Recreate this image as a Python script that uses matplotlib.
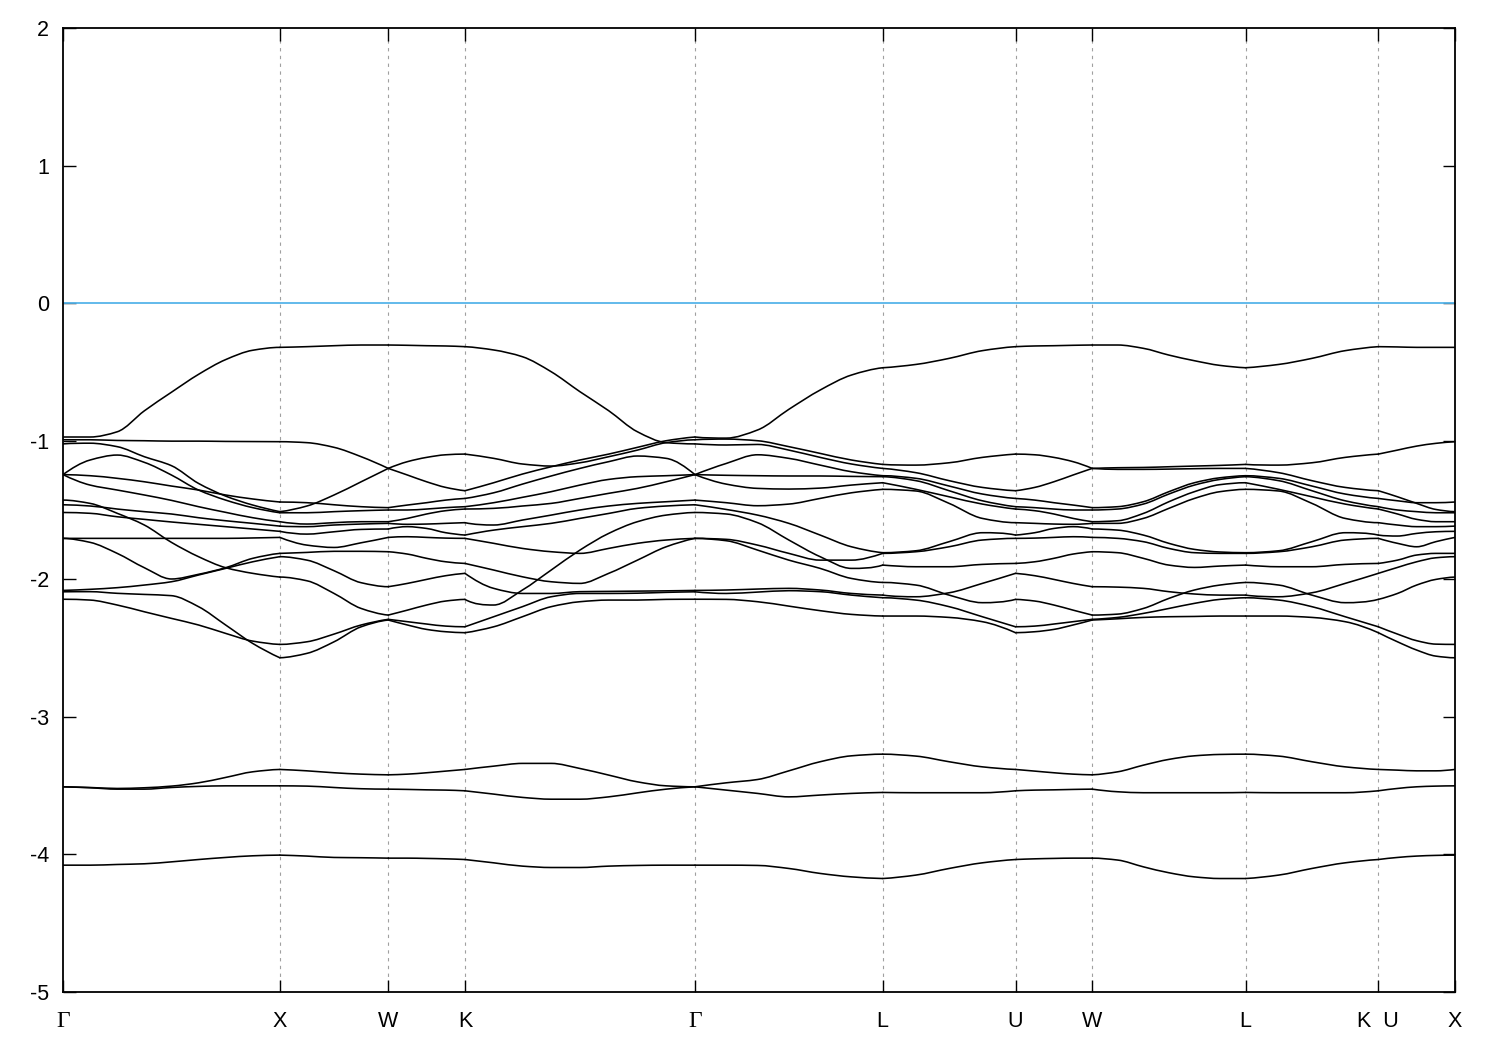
import numpy as np
import matplotlib
matplotlib.use("Agg")
import matplotlib.pyplot as plt
from matplotlib.path import Path
from matplotlib.patches import PathPatch

# ---------------- k-path ----------------
kpoint_labels = ["Γ", "X", "W", "K", "Γ", "L", "U", "W", "L", "K  U", "X"]
segment_lengths = [1.0, 0.5, 0.3536, 1.0607, 0.8660, 0.6124, 0.3536, 0.7071, 0.6124, 0.3536]

# ---------------- energies (eV) per segment, one row per band ----------------
bands_GX = [
    [-0.97, -0.97, -0.932, -0.78, -0.645, -0.515, -0.408, -0.34, -0.319],
    [-0.99, -0.99, -0.995, -0.997, -1.0, -1.0, -1.002, -1.003, -1.004],
    [-1.02, -1.015, -1.04, -1.113, -1.178, -1.307, -1.399, -1.464, -1.512],
    [-1.243, -1.137, -1.101, -1.154, -1.246, -1.355, -1.428, -1.483, -1.52],
    [-1.243, -1.251, -1.27, -1.295, -1.326, -1.355, -1.391, -1.42, -1.442],
    [-1.243, -1.319, -1.355, -1.391, -1.43, -1.476, -1.517, -1.556, -1.585],
    [-1.462, -1.471, -1.493, -1.512, -1.529, -1.556, -1.578, -1.597, -1.617],
    [-1.518, -1.524, -1.549, -1.568, -1.587, -1.604, -1.621, -1.638, -1.655],
    [-1.428, -1.452, -1.524, -1.609, -1.735, -1.839, -1.919, -1.96, -1.987],
    [-1.706, -1.706, -1.706, -1.706, -1.706, -1.706, -1.706, -1.703, -1.699],
    [-1.706, -1.735, -1.815, -1.919, -2.001, -1.967, -1.919, -1.851, -1.815],
    [-2.084, -2.076, -2.064, -2.045, -2.021, -1.972, -1.924, -1.876, -1.839],
    [-2.094, -2.093, -2.105, -2.113, -2.122, -2.202, -2.335, -2.469, -2.573],
    [-2.148, -2.154, -2.19, -2.239, -2.287, -2.335, -2.396, -2.452, -2.476],
    [-3.51, -3.515, -3.522, -3.517, -3.505, -3.481, -3.442, -3.401, -3.384],
    [-3.51, -3.517, -3.527, -3.527, -3.515, -3.507, -3.503, -3.503, -3.503],
    [-4.079, -4.079, -4.074, -4.069, -4.055, -4.038, -4.023, -4.011, -4.006],
]

bands_XW = [
    [-0.319, -0.314, -0.307, -0.302, -0.302],
    [-1.004, -1.011, -1.045, -1.113, -1.198],
    [-1.442, -1.447, -1.462, -1.476, -1.483],
    [-1.512, -1.471, -1.391, -1.295, -1.198],
    [-1.52, -1.52, -1.512, -1.505, -1.5],
    [-1.585, -1.602, -1.592, -1.585, -1.585],
    [-1.617, -1.621, -1.609, -1.602, -1.597],
    [-1.655, -1.675, -1.658, -1.641, -1.638],
    [-1.699, -1.755, -1.772, -1.738, -1.699],
    [-1.815, -1.808, -1.800, -1.800, -1.803],
    [-1.839, -1.864, -1.941, -2.028, -2.057],
    [-1.987, -2.014, -2.106, -2.215, -2.263],
    [-2.476, -2.457, -2.401, -2.335, -2.294],
    [-2.573, -2.541, -2.457, -2.348, -2.299],
    [-3.384, -3.394, -3.408, -3.418, -3.423],
    [-3.503, -3.505, -3.515, -3.524, -3.527],
    [-4.006, -4.013, -4.023, -4.025, -4.028],
]

bands_WK = [
    [-0.302, -0.304, -0.307, -0.309, -0.314],
    [-1.198, -1.246, -1.295, -1.336, -1.36],
    [-1.198, -1.149, -1.118, -1.099, -1.094],
    [-1.483, -1.464, -1.447, -1.428, -1.416],
    [-1.5, -1.5, -1.493, -1.483, -1.476],
    [-1.585, -1.561, -1.529, -1.505, -1.493],
    [-1.597, -1.604, -1.602, -1.597, -1.592],
    [-1.638, -1.621, -1.634, -1.665, -1.682],
    [-1.699, -1.694, -1.699, -1.704, -1.706],
    [-1.803, -1.82, -1.851, -1.876, -1.888],
    [-2.057, -2.033, -2.004, -1.977, -1.96],
    [-2.263, -2.227, -2.19, -2.161, -2.149],
    [-2.294, -2.311, -2.328, -2.343, -2.348],
    [-2.299, -2.335, -2.367, -2.384, -2.391],
    [-3.423, -3.418, -3.408, -3.396, -3.384],
    [-3.527, -3.529, -3.532, -3.534, -3.539],
    [-4.028, -4.028, -4.03, -4.033, -4.038],
]

bands_KG = [
    [-0.314, -0.338, -0.387, -0.496, -0.641, -0.779, -0.932, -1.011, -1.02],
    [-1.36, -1.302, -1.239, -1.186, -1.137, -1.094, -1.045, -0.997, -0.97],
    [-1.094, -1.125, -1.166, -1.181, -1.157, -1.113, -1.065, -1.011, -0.99],
    [-1.416, -1.375, -1.312, -1.253, -1.198, -1.149, -1.108, -1.125, -1.243],
    [-1.476, -1.447, -1.408, -1.367, -1.319, -1.278, -1.258, -1.251, -1.243],
    [-1.493, -1.488, -1.471, -1.452, -1.416, -1.379, -1.343, -1.295, -1.243],
    [-1.592, -1.609, -1.573, -1.537, -1.5, -1.471, -1.452, -1.44, -1.428],
    [-1.682, -1.646, -1.621, -1.597, -1.561, -1.525, -1.488, -1.471, -1.462],
    [-1.706, -1.742, -1.779, -1.803, -1.815, -1.779, -1.742, -1.718, -1.706],
    [-1.888, -1.936, -1.985, -2.021, -2.033, -1.96, -1.864, -1.767, -1.706],
    [-1.96, -2.069, -2.106, -2.106, -2.093, -2.091, -2.089, -2.087, -2.084],
    [-2.149, -2.19, -2.081, -1.936, -1.791, -1.67, -1.585, -1.537, -1.518],
    [-2.348, -2.275, -2.202, -2.13, -2.106, -2.106, -2.104, -2.098, -2.094],
    [-2.391, -2.348, -2.275, -2.202, -2.166, -2.154, -2.154, -2.149, -2.148],
    [-3.384, -3.36, -3.34, -3.34, -3.377, -3.425, -3.474, -3.503, -3.51],
    [-3.539, -3.563, -3.587, -3.6, -3.6, -3.583, -3.554, -3.527, -3.51],
    [-4.038, -4.062, -4.086, -4.096, -4.096, -4.086, -4.081, -4.079, -4.079],
]

bands_GL = [
    [-0.97, -0.978, -0.919, -0.769, -0.629, -0.52, -0.467],
    [-0.99, -0.985, -0.997, -1.04, -1.089, -1.137, -1.169],
    [-1.02, -1.028, -1.024, -1.065, -1.118, -1.166, -1.198],
    [-1.243, -1.162, -1.099, -1.125, -1.174, -1.222, -1.251],
    [-1.243, -1.248, -1.251, -1.253, -1.253, -1.256, -1.258],
    [-1.243, -1.312, -1.343, -1.348, -1.341, -1.319, -1.302],
    [-1.428, -1.447, -1.469, -1.457, -1.416, -1.375, -1.35],
    [-1.462, -1.496, -1.537, -1.597, -1.682, -1.767, -1.81],
    [-1.518, -1.529, -1.592, -1.718, -1.839, -1.924, -1.9],
    [-1.706, -1.713, -1.755, -1.815, -1.864, -1.864, -1.815],
    [-1.706, -1.723, -1.791, -1.864, -1.924, -1.997, -2.026],
    [-2.084, -2.081, -2.074, -2.069, -2.081, -2.106, -2.118],
    [-2.094, -2.106, -2.096, -2.086, -2.093, -2.118, -2.137],
    [-2.148, -2.149, -2.166, -2.198, -2.231, -2.258, -2.27],
    [-3.51, -3.481, -3.457, -3.394, -3.328, -3.285, -3.273],
    [-3.51, -3.534, -3.558, -3.583, -3.57, -3.558, -3.551],
    [-4.079, -4.079, -4.081, -4.103, -4.139, -4.164, -4.176],
]

bands_LU = [
    [-0.467, -0.443, -0.399, -0.343, -0.314],
    [-1.169, -1.174, -1.157, -1.118, -1.094],
    [-1.198, -1.229, -1.287, -1.336, -1.36],
    [-1.251, -1.27, -1.326, -1.384, -1.416],
    [-1.258, -1.287, -1.36, -1.433, -1.476],
    [-1.302, -1.35, -1.404, -1.457, -1.493],
    [-1.35, -1.362, -1.452, -1.561, -1.592],
    [-1.81, -1.796, -1.73, -1.665, -1.682],
    [-1.815, -1.803, -1.767, -1.718, -1.706],
    [-1.9, -1.912, -1.912, -1.895, -1.888],
    [-2.118, -2.13, -2.101, -2.033, -1.96],
    [-2.026, -2.045, -2.118, -2.173, -2.149],
    [-2.137, -2.154, -2.202, -2.275, -2.348],
    [-2.27, -2.27, -2.28, -2.311, -2.391],
    [-3.273, -3.287, -3.328, -3.365, -3.384],
    [-3.551, -3.553, -3.553, -3.553, -3.539],
    [-4.176, -4.151, -4.103, -4.062, -4.038],
]

bands_WL = [
    [-0.302, -0.302, -0.326, -0.375, -0.416, -0.45, -0.467],
    [-1.198, -1.193, -1.191, -1.186, -1.181, -1.176, -1.169],
    [-1.198, -1.205, -1.205, -1.203, -1.2, -1.198, -1.198],
    [-1.483, -1.476, -1.44, -1.367, -1.302, -1.266, -1.251],
    [-1.5, -1.493, -1.457, -1.384, -1.319, -1.278, -1.258],
    [-1.585, -1.578, -1.525, -1.44, -1.367, -1.316, -1.302],
    [-1.597, -1.597, -1.561, -1.488, -1.416, -1.367, -1.35],
    [-1.638, -1.646, -1.682, -1.742, -1.786, -1.805, -1.81],
    [-1.699, -1.706, -1.73, -1.779, -1.81, -1.815, -1.815],
    [-1.803, -1.81, -1.851, -1.9, -1.917, -1.907, -1.9],
    [-2.057, -2.06, -2.069, -2.093, -2.11, -2.118, -2.118],
    [-2.263, -2.256, -2.215, -2.142, -2.081, -2.045, -2.026],
    [-2.294, -2.28, -2.251, -2.215, -2.178, -2.149, -2.137],
    [-2.299, -2.29, -2.28, -2.275, -2.273, -2.27, -2.27],
    [-3.423, -3.401, -3.353, -3.311, -3.285, -3.275, -3.273],
    [-3.527, -3.546, -3.553, -3.553, -3.553, -3.553, -3.551],
    [-4.028, -4.042, -4.091, -4.134, -4.164, -4.176, -4.176],
]

bands_UX = [
    [-0.314, -0.316, -0.319, -0.319, -0.319],
    [-1.094, -1.065, -1.036, -1.016, -1.004],
    [-1.36, -1.404, -1.452, -1.496, -1.512],
    [-1.416, -1.433, -1.447, -1.447, -1.442],
    [-1.476, -1.5, -1.512, -1.52, -1.52],
    [-1.493, -1.529, -1.568, -1.585, -1.585],
    [-1.592, -1.609, -1.621, -1.621, -1.617],
    [-1.682, -1.689, -1.67, -1.658, -1.655],
    [-1.706, -1.742, -1.767, -1.73, -1.699],
    [-1.888, -1.864, -1.827, -1.815, -1.815],
    [-1.96, -1.917, -1.876, -1.847, -1.839],
    [-2.149, -2.106, -2.045, -2.004, -1.987],
    [-2.348, -2.401, -2.449, -2.474, -2.476],
    [-2.391, -2.457, -2.517, -2.561, -2.573],
    [-3.384, -3.389, -3.394, -3.394, -3.384],
    [-3.539, -3.522, -3.51, -3.505, -3.503],
    [-4.038, -4.023, -4.013, -4.008, -4.006],
]

# segment order along the path (U-W is W-K traversed backwards, L-K equals L-U)
path_segments = [
    (bands_GX, False), (bands_XW, False), (bands_WK, False), (bands_KG, False),
    (bands_GL, False), (bands_LU, False), (bands_WK, True), (bands_WL, False),
    (bands_LU, False), (bands_UX, False),
]

fermi_level = 0.0
y_ticks = [-5, -4, -3, -2, -1, 0, 1, 2]


def smooth_path(xs, ys):
    """Shape-preserving cubic (PCHIP-style tangents) drawn as Bezier curves."""
    n = len(xs)
    h = np.diff(xs)
    d = np.diff(ys) / h
    m = np.zeros(n)
    for k in range(1, n - 1):
        if d[k - 1] * d[k] > 0:
            m[k] = 2.0 / (1.0 / d[k - 1] + 1.0 / d[k])
        else:
            m[k] = 0.0
    if n > 2:
        m0 = (3 * d[0] - d[1]) / 2.0
        m[0] = 0.0 if m0 * d[0] <= 0 else (3 * d[0] if abs(m0) > abs(3 * d[0]) else m0)
        mn = (3 * d[-1] - d[-2]) / 2.0
        m[-1] = 0.0 if mn * d[-1] <= 0 else (3 * d[-1] if abs(mn) > abs(3 * d[-1]) else mn)
    else:
        m[:] = d[0]
    verts = [(xs[0], ys[0])]
    codes = [Path.MOVETO]
    for k in range(n - 1):
        verts += [(xs[k] + h[k] / 3, ys[k] + m[k] * h[k] / 3),
                  (xs[k + 1] - h[k] / 3, ys[k + 1] - m[k + 1] * h[k] / 3),
                  (xs[k + 1], ys[k + 1])]
        codes += [Path.CURVE4] * 3
    return Path(verts, codes)


# ---------------- figure ----------------
plt.rcParams["font.family"] = ["Liberation Sans", "DejaVu Sans"]
fig = plt.figure(figsize=(15, 10.5), dpi=100)
ax = fig.add_axes([63 / 1500, 58 / 1050, (1455 - 63) / 1500, (992 - 28) / 1050])

kpos = np.concatenate([[0.0], np.cumsum(segment_lengths)])

for i, (seg, rev) in enumerate(path_segments):
    x0, x1 = kpos[i], kpos[i + 1]
    for band in seg:
        e = np.array(band[::-1] if rev else band, dtype=float)
        xs = np.linspace(x0, x1, len(e))
        ax.add_patch(PathPatch(smooth_path(xs, e), facecolor="none",
                               edgecolor="black", lw=1.15, capstyle="round",
                               joinstyle="round", zorder=3))

for xv in kpos[1:-1]:
    ax.axvline(xv, color="#a0a0a0", lw=0.8, ls=(0, (3, 4)), zorder=1)

ax.axhline(fermi_level, color="#56b4e9", lw=1.3, zorder=2)

ax.set_xlim(kpos[0], kpos[-1])
ax.set_ylim(-5, 2)
ax.set_yticks(y_ticks)
ax.set_yticklabels([str(t) for t in y_ticks])
ax.set_xticks(kpos)
ax.set_xticklabels(kpoint_labels)

ax.tick_params(axis="both", direction="in", length=9, width=1.0, labelsize=15.5,
               top=True, right=True, colors="black")
ax.tick_params(axis="x", pad=14)
ax.tick_params(axis="y", pad=10)
for lab, txt in zip(ax.get_xticklabels(), kpoint_labels):
    if txt == "Γ":
        lab.set_fontfamily(["Liberation Serif", "DejaVu Serif"])
        lab.set_fontsize(17)
for s in ax.spines.values():
    s.set_linewidth(1.3)

fig.savefig("out.png", dpi=100)
